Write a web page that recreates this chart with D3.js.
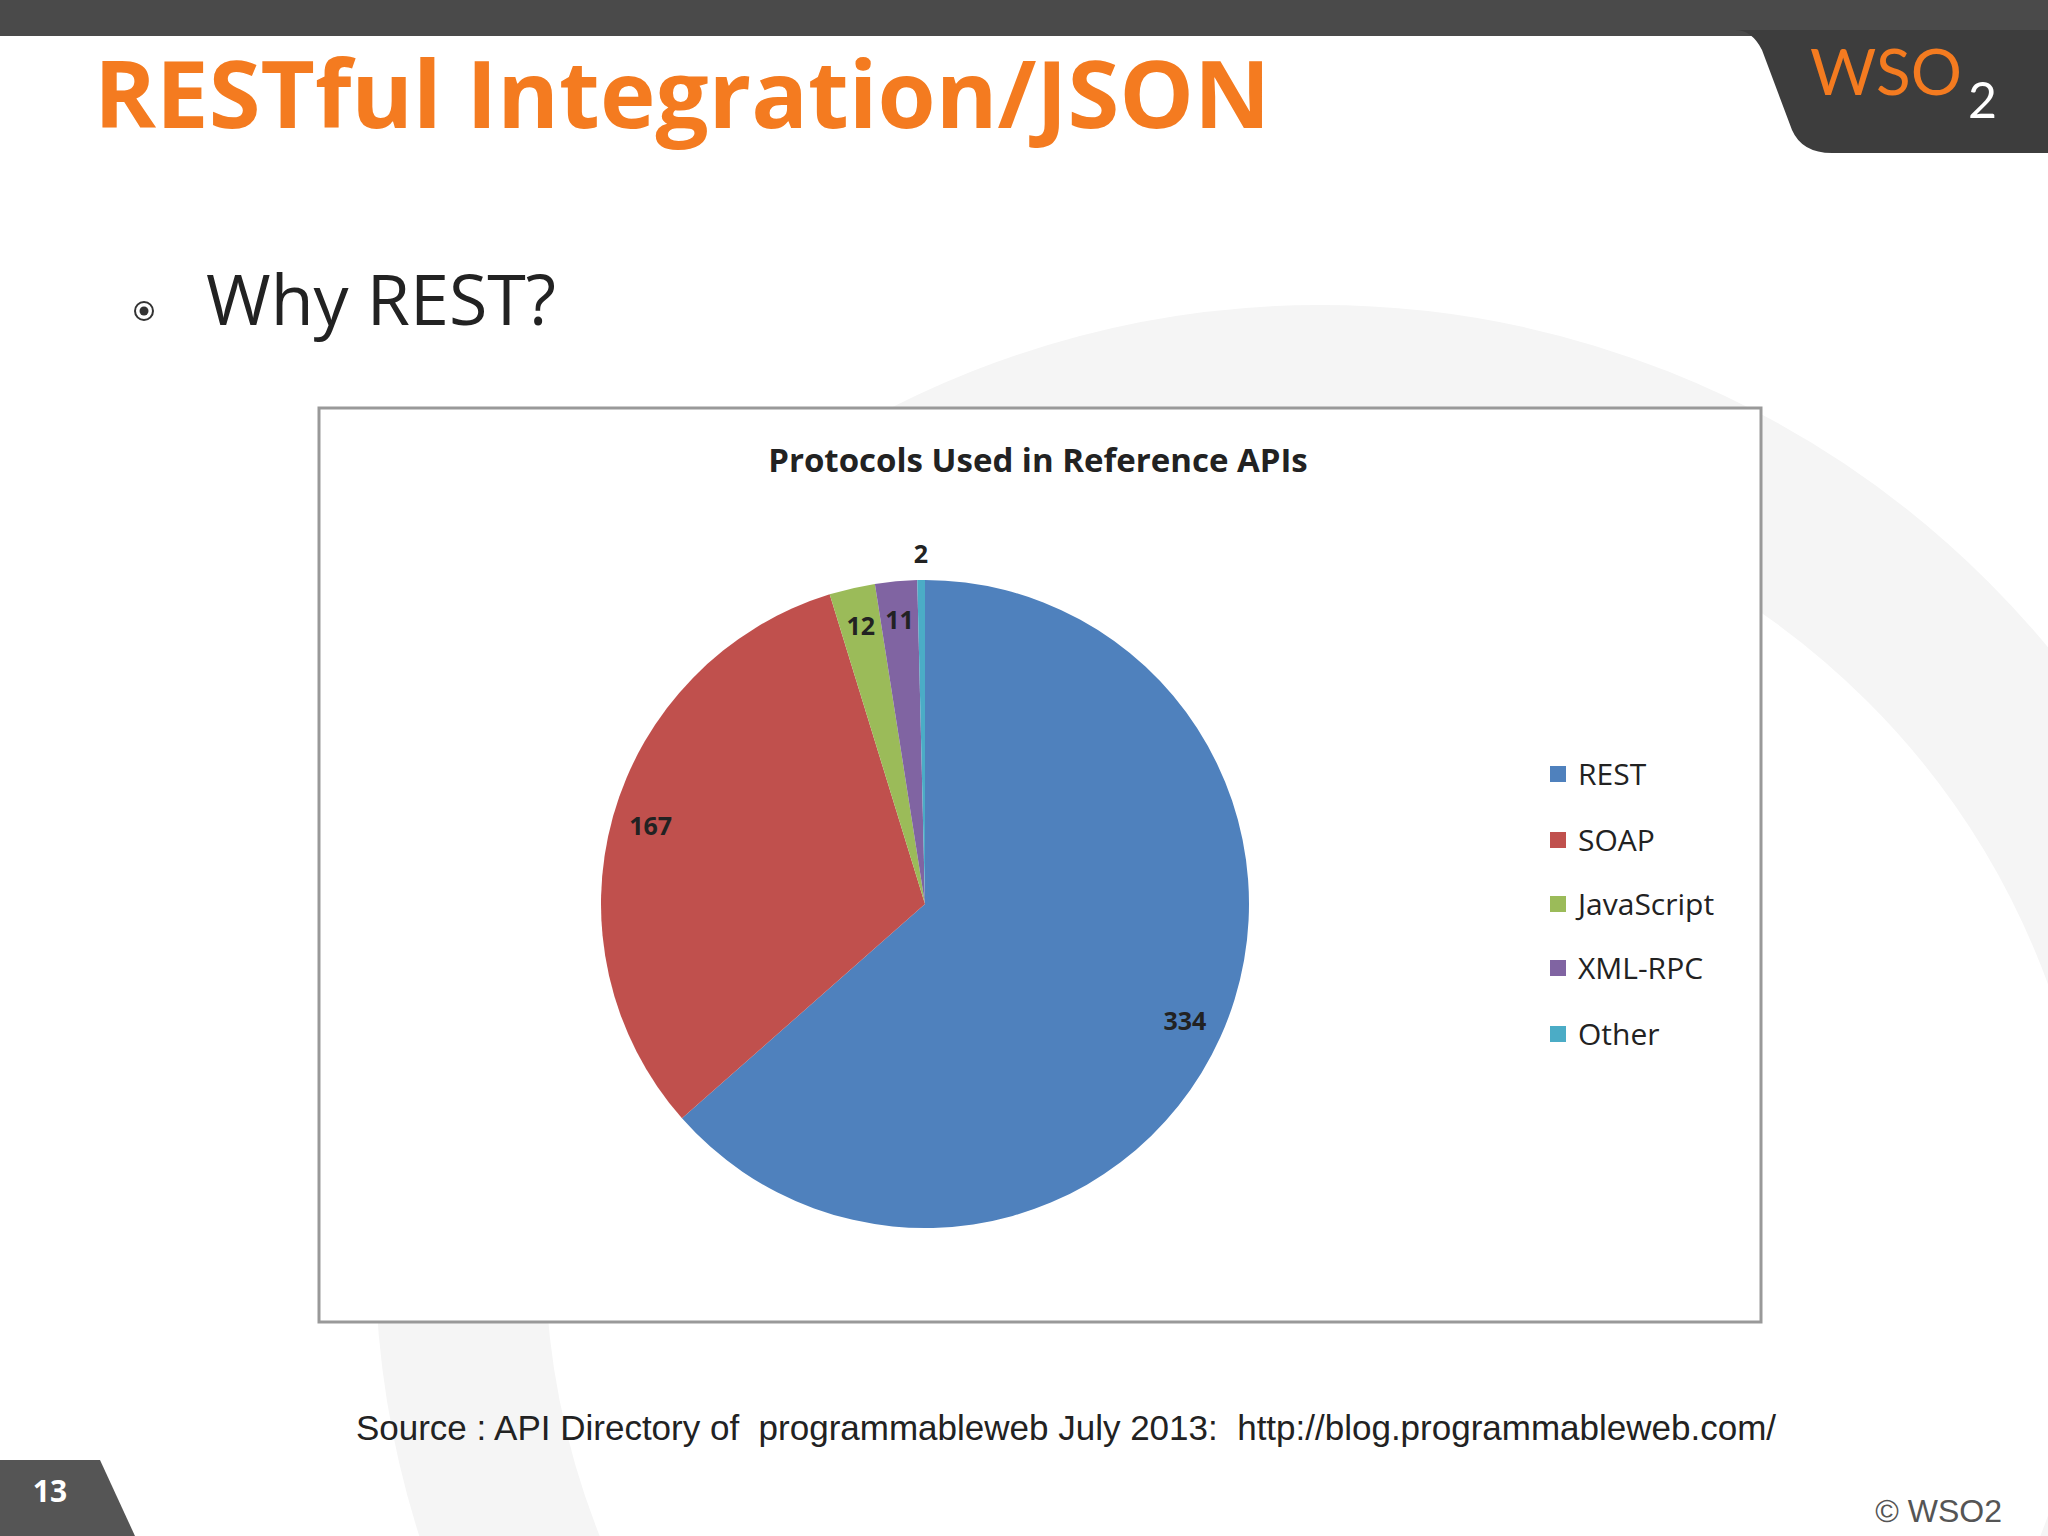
<!DOCTYPE html>
<html><head><meta charset="utf-8">
<script src="https://cdn.jsdelivr.net/npm/d3@7"></script>
<style>body{margin:0;background:#fff} text{white-space:pre}</style></head>
<body><svg id="s" width="2048" height="1536"></svg>
<script>
const categories=["REST","SOAP","JavaScript","XML-RPC","Other"];
const values=[334,167,12,11,2];
const colors=["#4F81BD","#C0504D","#9BBB59","#8064A2","#4BACC6"];
const svg=d3.select("#s");
svg.append("circle").attr("cx",1320).attr("cy",1250).attr("r",860).attr("fill","none").attr("stroke","#f5f5f5").attr("stroke-width",170);
svg.append("rect").attr("x",0).attr("y",0).attr("width",2048).attr("height",36).attr("fill","#4a4a4a");
svg.append("path").attr("d","M1705,30 L1735,30 Q1752,30 1762,50 L1792,130 Q1802,153 1832,153 L2048,153 L2048,30 Z").attr("fill","#3d3d3d");
svg.append("text").attr("x",1810).attr("y",95).attr("font-family","Lato,sans-serif").attr("font-size",64).attr("fill","#f47b20").text("WSO");
svg.append("text").attr("x",1968).attr("y",118).attr("font-family","Lato,sans-serif").attr("font-size",50).attr("fill","#fff").text("2");
svg.append("text").attr("x",94).attr("y",128).attr("font-family","'Open Sans',sans-serif").attr("font-weight","bold").attr("font-size",94).attr("fill","#f47b20").text("RESTful Integration/JSON");
svg.append("circle").attr("cx",144).attr("cy",311).attr("r",9).attr("fill","none").attr("stroke","#333").attr("stroke-width",2);
svg.append("circle").attr("cx",144).attr("cy",311).attr("r",4.5).attr("fill","#333");
svg.append("text").attr("x",206).attr("y",325).attr("font-family","'Open Sans',sans-serif").attr("font-size",70).attr("fill","#222").text("Why REST?");
svg.append("rect").attr("x",319).attr("y",408).attr("width",1442).attr("height",914).attr("fill","#fff").attr("stroke","#999").attr("stroke-width",3);
svg.append("text").attr("x",1038).attr("y",472).attr("text-anchor","middle").attr("font-family","'Open Sans',sans-serif").attr("font-weight","bold").attr("font-size",33).attr("fill","#222").text("Protocols Used in Reference APIs");
const cx=925,cy=904,r=324;
const pie=d3.pie().sort(null)(values);
const arc=d3.arc().innerRadius(0).outerRadius(r);
const g=svg.append("g").attr("transform",`translate(${cx},${cy})`);
g.selectAll("path").data(pie).join("path").attr("d",arc).attr("fill",(d,i)=>colors[i]);
g.selectAll("text").data(pie).join("text").each(function(d,i){
  const a=(d.startAngle+d.endAngle)/2, rr=i==4?r*1.08:r*0.88;
  d3.select(this).attr("x",Math.sin(a)*rr).attr("y",-Math.cos(a)*rr).attr("dy","0.35em");
}).attr("text-anchor","middle").attr("font-family","'Open Sans',sans-serif").attr("font-weight","bold").attr("font-size",25).attr("fill","#222").text(d=>d.value);
const ys=[774,840,904,968,1034];
categories.forEach((c,i)=>{
  svg.append("rect").attr("x",1550).attr("y",ys[i]-8).attr("width",16).attr("height",16).attr("fill",colors[i]);
  svg.append("text").attr("x",1578).attr("y",ys[i]).attr("dy","0.35em").attr("font-family","'Open Sans',sans-serif").attr("font-size",30).attr("fill","#222").text(c);
});
svg.append("text").attr("x",1066).attr("y",1440).attr("text-anchor","middle").attr("font-family","'Liberation Sans',Arial,sans-serif").attr("font-size",35).attr("fill","#222").text("Source : API Directory of  programmableweb July 2013:  http://blog.programmableweb.com/");
svg.append("path").attr("d","M0,1460 L100,1460 L135,1536 L0,1536 Z").attr("fill","#555");
svg.append("text").attr("x",50).attr("y",1502).attr("text-anchor","middle").attr("font-family","'Open Sans',sans-serif").attr("font-weight","bold").attr("font-size",30).attr("fill","#fff").text("13");
svg.append("text").attr("x",2002).attr("y",1522).attr("text-anchor","end").attr("font-family","'Liberation Sans',Arial,sans-serif").attr("font-size",32).attr("fill","#555").text("© WSO2");
</script></body></html>
